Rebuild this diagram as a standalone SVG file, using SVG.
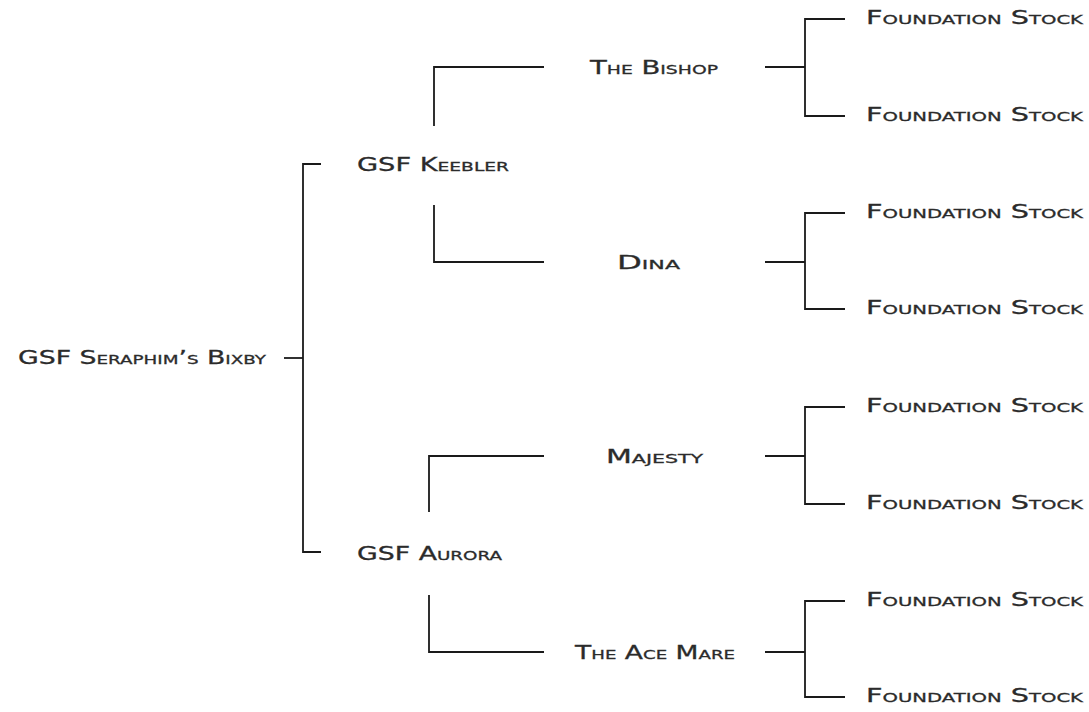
<svg xmlns="http://www.w3.org/2000/svg" width="1089" height="712" viewBox="0 0 1089 712">
<style>
text{font-family:"DejaVu Sans","Liberation Sans",sans-serif;font-size:19px;font-variant:small-caps;fill:#2b2b2b;stroke:#2b2b2b;stroke-width:0.3}
.c path,.c line{fill:none;stroke:#1a1a1a;stroke-width:1.8}
</style>
<rect width="1089" height="712" fill="#fff"/>
<g class="c" id="connectors">
<line x1="284" y1="358" x2="303" y2="358"/>
<path d="M321 164H303V552H321"/>
<path d="M434 126V67H544"/>
<path d="M434 205V262H544"/>
<path d="M429 512V456H544"/>
<path d="M429 595V652H544"/>
<line x1="765" y1="67" x2="805" y2="67"/>
<path d="M845 19H805V116H845"/>
<line x1="765" y1="262" x2="805" y2="262"/>
<path d="M845 213H805V309H845"/>
<line x1="765" y1="456" x2="805" y2="456"/>
<path d="M845 407H805V504H845"/>
<line x1="765" y1="652" x2="805" y2="652"/>
<path d="M845 601H805V697H845"/>
</g>
<g id="n-bixby"><text x="18" y="364" textLength="248" lengthAdjust="spacingAndGlyphs">GSF Seraphim’s Bixby</text></g>
<g id="n-keebler"><text x="357" y="171" textLength="152" lengthAdjust="spacingAndGlyphs">GSF Keebler</text></g>
<g id="n-aurora"><text x="357" y="560" textLength="145" lengthAdjust="spacingAndGlyphs">GSF Aurora</text></g>
<g id="n-bishop"><text x="590" y="74" textLength="128" lengthAdjust="spacingAndGlyphs">The Bishop</text></g>
<g id="n-dina"><text x="617" y="269" textLength="63" lengthAdjust="spacingAndGlyphs">Dina</text></g>
<g id="n-majesty"><text x="606" y="463" textLength="97" lengthAdjust="spacingAndGlyphs">Majesty</text></g>
<g id="n-acemare"><text x="575" y="659" textLength="160" lengthAdjust="spacingAndGlyphs">The Ace Mare</text></g>
<g id="n-fs1"><text x="866" y="24" textLength="217" lengthAdjust="spacingAndGlyphs">Foundation Stock</text></g>
<g id="n-fs2"><text x="866" y="121" textLength="217" lengthAdjust="spacingAndGlyphs">Foundation Stock</text></g>
<g id="n-fs3"><text x="866" y="218" textLength="217" lengthAdjust="spacingAndGlyphs">Foundation Stock</text></g>
<g id="n-fs4"><text x="866" y="314" textLength="217" lengthAdjust="spacingAndGlyphs">Foundation Stock</text></g>
<g id="n-fs5"><text x="866" y="412" textLength="217" lengthAdjust="spacingAndGlyphs">Foundation Stock</text></g>
<g id="n-fs6"><text x="866" y="509" textLength="217" lengthAdjust="spacingAndGlyphs">Foundation Stock</text></g>
<g id="n-fs7"><text x="866" y="606" textLength="217" lengthAdjust="spacingAndGlyphs">Foundation Stock</text></g>
<g id="n-fs8"><text x="866" y="702" textLength="217" lengthAdjust="spacingAndGlyphs">Foundation Stock</text></g>
</svg>
